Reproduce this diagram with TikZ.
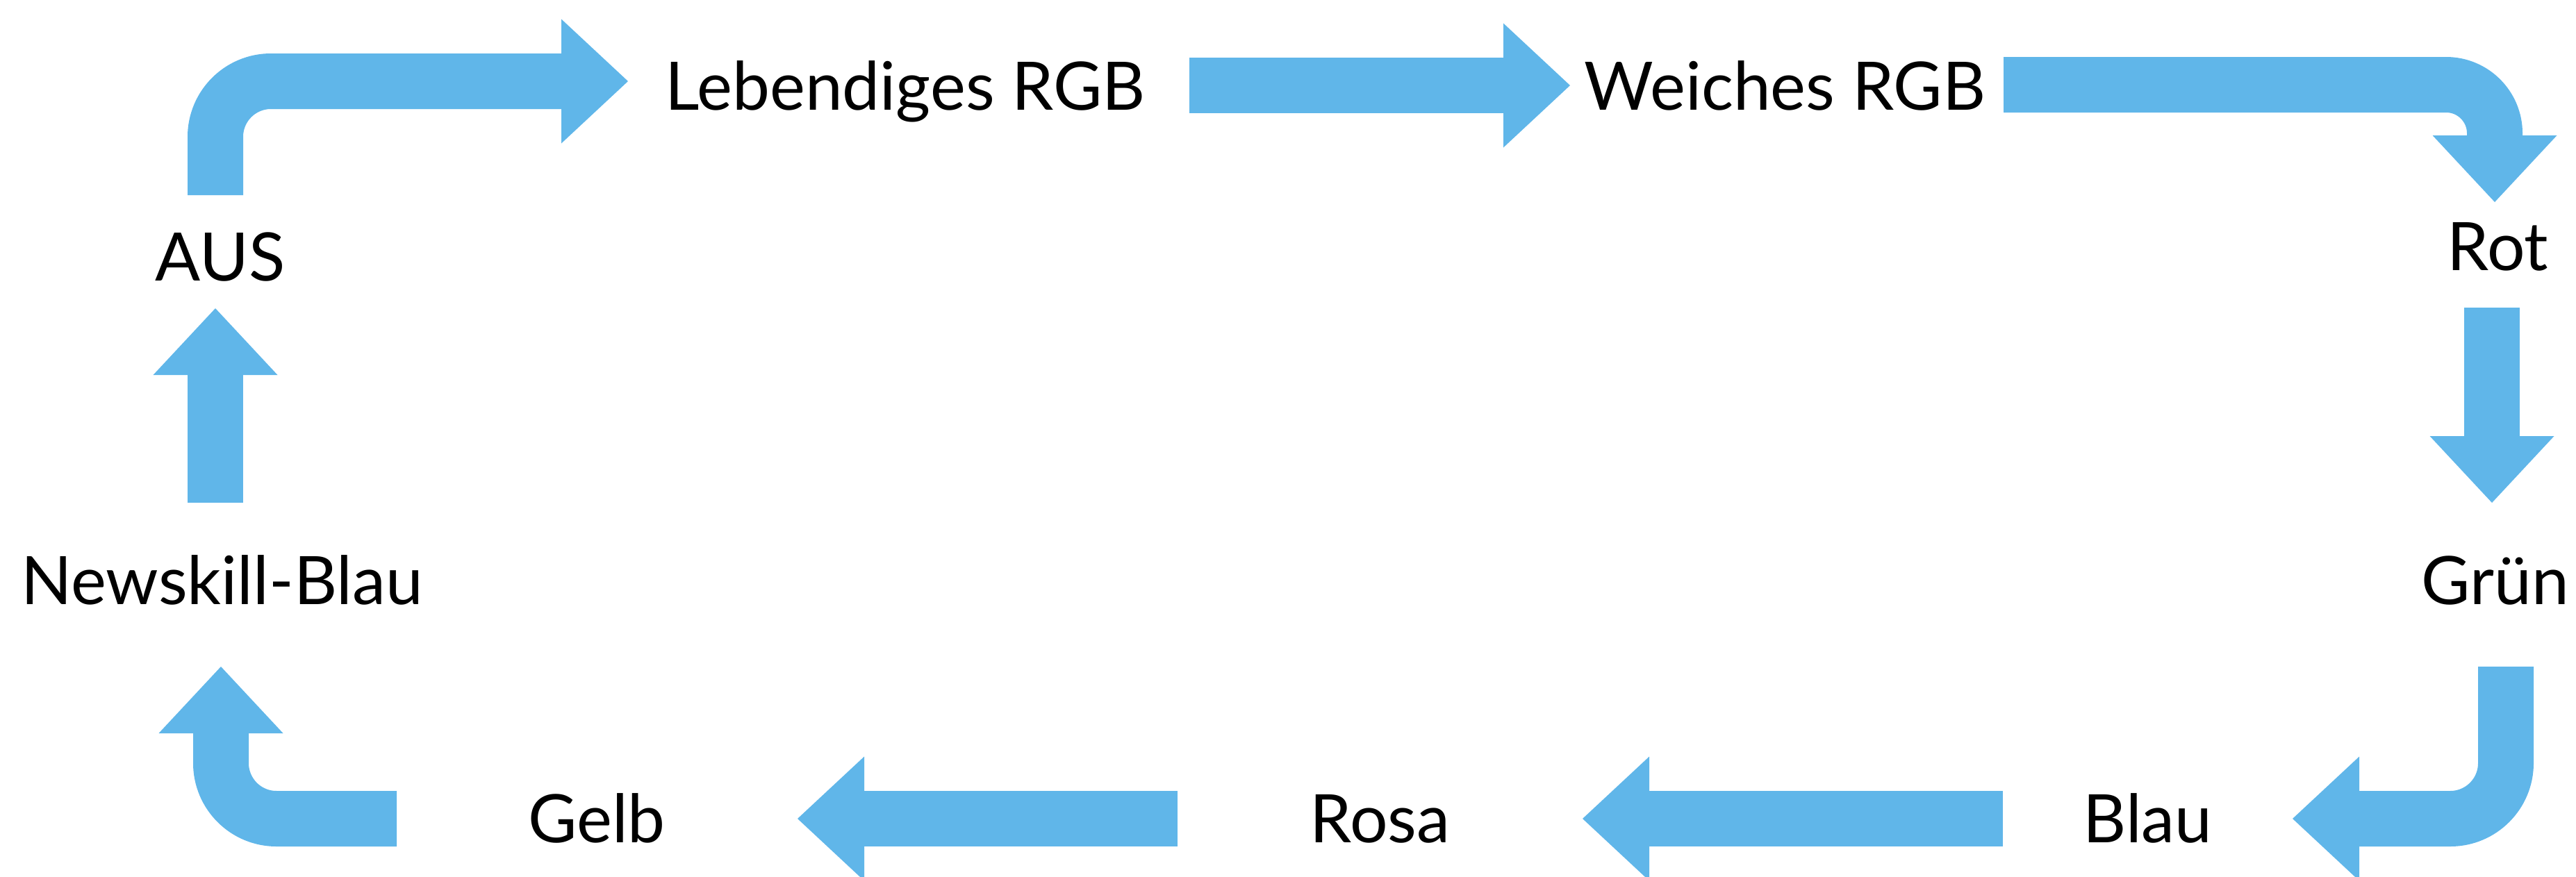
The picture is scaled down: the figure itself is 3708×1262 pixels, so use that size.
\documentclass[tikz,border=0pt]{standalone}
\usepackage{fontspec}
\setmainfont{Lato}
\usetikzlibrary{arrows.meta}
\definecolor{flowblue}{RGB}{96,182,233}
\begin{document}
\begin{tikzpicture}[x=1pt,y=-1pt,
  lbl/.style={font=\fontsize{96.3}{100}\selectfont, inner sep=0pt, anchor=base, text=black},
  flow/.style={draw=flowblue, line width=80pt, line cap=butt,
    -{Triangle[length=96pt,width=179pt,line width=0pt,fill=flowblue]}},
]
\useasboundingbox (0,0) rectangle (3708,1262);
% labels
\node[lbl] (aus)      at (317,404)    {AUS};
\node[lbl] (leb)      at (1303,158)   {Lebendiges RGB};
\node[lbl] (wei)      at (2569.5,158) {Weiches RGB};
\node[lbl] (rot)      at (3595.5,389) {Rot};
\node[lbl] (gruen)    at (3591.5,870) {Grün};
\node[lbl] (blau)     at (3091.5,1213){Blau};
\node[lbl] (rosa)     at (1986.5,1213){Rosa};
\node[lbl] (gelb)     at (859,1213)   {Gelb};
\node[lbl] (newskill) at (319.5,870)  {Newskill-Blau};
% connector ends
\coordinate (aS) at (310,281);   \coordinate (aE) at (904,117);
\coordinate (bS) at (1712,123);  \coordinate (bE) at (2260,123);
\coordinate (cS) at (2884,122);  \coordinate (cE) at (3591,291);
\coordinate (dS) at (3587,443);  \coordinate (dE) at (3587,724);
\coordinate (eS) at (3607,960);  \coordinate (eE) at (3300,1179);
\coordinate (fS) at (2883,1179); \coordinate (fE) at (2278,1179);
\coordinate (gS) at (1695,1179); \coordinate (gE) at (1148,1179);
\coordinate (hS) at (571,1179);  \coordinate (hE) at (318,960);
\coordinate (iS) at (310,724);   \coordinate (iE) at (310,444);
% connectors
\draw[flow, rounded corners=80pt] (aS) |- (aE);
\draw[flow] (bS) -- (bE);
\draw[flow, rounded corners=70pt] (cS) -| (cE);
\draw[flow] (dS) -- (dE);
\draw[flow, rounded corners=80pt] (eS) |- (eE);
\draw[flow] (fS) -- (fE);
\draw[flow] (gS) -- (gE);
\draw[flow, rounded corners=80pt] (hS) -| (hE);
\draw[flow] (iS) -- (iE);
\end{tikzpicture}
\end{document}
